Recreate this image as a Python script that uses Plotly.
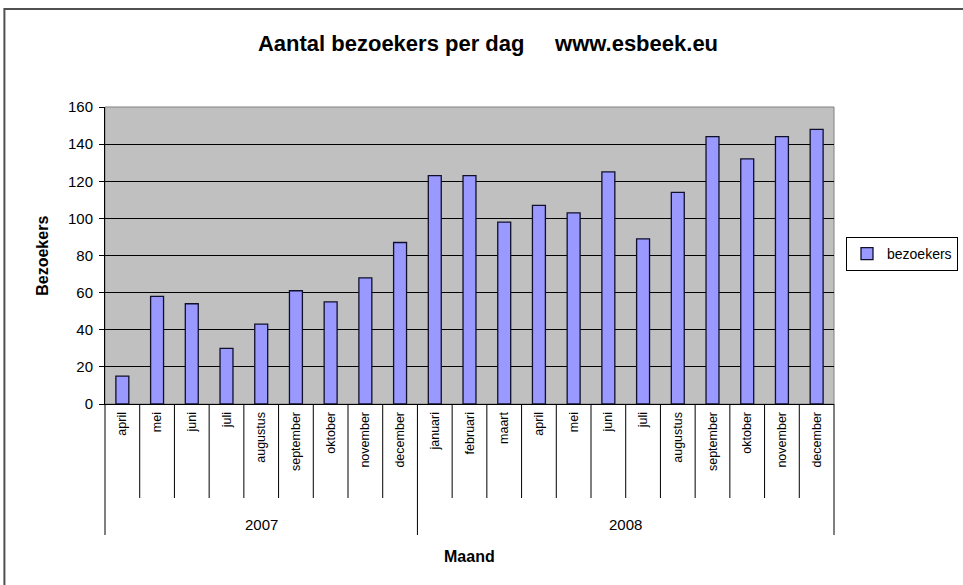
import plotly.graph_objects as go

months_2007 = ["april", "mei", "juni", "juli", "augustus", "september", "oktober", "november", "december"]
months_2008 = ["januari", "februari", "maart", "april", "mei", "juni", "juli", "augustus",
               "september", "oktober", "november", "december"]
years = ["2007", "2008"]
visitors = [15, 58, 54, 30, 43, 61, 55, 68, 87,
            123, 123, 98, 107, 103, 125, 89, 114, 144, 132, 144, 148]

labels = months_2007 + months_2008
n = len(labels)
xs = list(range(n))

W, H = 963, 585
L, T = 105, 107
R = W - 837
B = H - 404
PW, PH = W - L - R, H - T - B


def py(y_ref):
    """page pixel y -> paper y"""
    return 1 - (y_ref - T) / PH


def px(x_ref):
    return (x_ref - L) / PW


FONT = "Liberation Sans, Arial, sans-serif"

fig = go.Figure()
fig.add_trace(go.Bar(
    x=xs, y=visitors, name="bezoekers",
    marker=dict(color="#9999FF", line=dict(color="#10102a", width=1.3)),
))

shapes = []
for i in range(n + 1):
    long = i in (0, len(months_2007), n)
    shapes.append(dict(type="line", xref="x domain", yref="paper",
                       x0=i / n, x1=i / n, y0=0,
                       y1=py(535 if long else 498),
                       line=dict(color="black", width=1)))
shapes.append(dict(type="rect", xref="paper", yref="paper", x0=0, x1=1, y0=0, y1=1,
                   line=dict(color="#808080", width=1), layer="below"))
shapes.append(dict(type="rect", xref="paper", yref="paper",
                   x0=px(4), x1=px(975), y0=py(600), y1=py(9),
                   line=dict(color="#505050", width=2)))

annotations = [
    dict(text=years[0], x=(len(months_2007) - 1) / 2, xref="x", xanchor="center",
         y=py(524), yref="paper", yanchor="middle", showarrow=False,
         font=dict(size=15, color="black", family=FONT)),
    dict(text=years[1], x=len(months_2007) + (len(months_2008) - 1) / 2, xref="x", xanchor="center",
         y=py(524), yref="paper", yanchor="middle", showarrow=False,
         font=dict(size=15, color="black", family=FONT)),
    dict(text="<b>Maand</b>", x=0.5, xref="paper", xanchor="center",
         y=py(556), yref="paper", yanchor="middle", showarrow=False,
         font=dict(size=16, color="black", family=FONT)),
    dict(text="<b>Bezoekers</b>", x=px(42), xref="paper", xanchor="center",
         y=0.5, yref="paper", yanchor="middle",
         textangle=-90, showarrow=False,
         font=dict(size=16, color="black", family=FONT)),
]

fig.update_layout(
    width=W, height=H,
    margin=dict(l=L, r=R, t=T, b=B, pad=0),
    paper_bgcolor="white",
    plot_bgcolor="#C0C0C0",
    bargap=0.627,
    font=dict(family=FONT, color="black"),
    title=dict(text="<b>Aantal bezoekers per dag\u00a0\u00a0\u00a0\u00a0\u00a0www.esbeek.eu</b>",
               x=488 / W, xref="container", xanchor="center",
               y=1 - 43 / H, yref="container", yanchor="middle",
               font=dict(size=22, color="black", family=FONT)),
    xaxis=dict(range=[-0.5, n - 0.5], tickvals=xs, ticktext=labels, tickangle=-90,
               showgrid=False, zeroline=False, showline=True, linecolor="black", linewidth=1,
               ticks="", tickfont=dict(size=12.5, color="black", family=FONT),
               ticklabelstandoff=2, fixedrange=True),
    yaxis=dict(range=[0, 160], dtick=20, showgrid=True, gridcolor="black", gridwidth=1,
               zeroline=False, showline=True, linecolor="black", linewidth=1,
               ticks="outside", ticklen=5, tickcolor="black",
               tickfont=dict(size=15, color="black", family=FONT),
               ticklabelstandoff=3, fixedrange=True),
    showlegend=True,
    legend=dict(x=958 / W, xref="container", xanchor="right",
                y=1 - 254 / H, yref="container", yanchor="middle",
                bordercolor="black", borderwidth=1, bgcolor="white",
                font=dict(size=14, color="black", family=FONT), itemwidth=30),
    shapes=shapes,
    annotations=annotations,
)

fig.write_html("out.html", config={"displayModeBar": False},
               post_script="document.body.style.margin='0px';")
